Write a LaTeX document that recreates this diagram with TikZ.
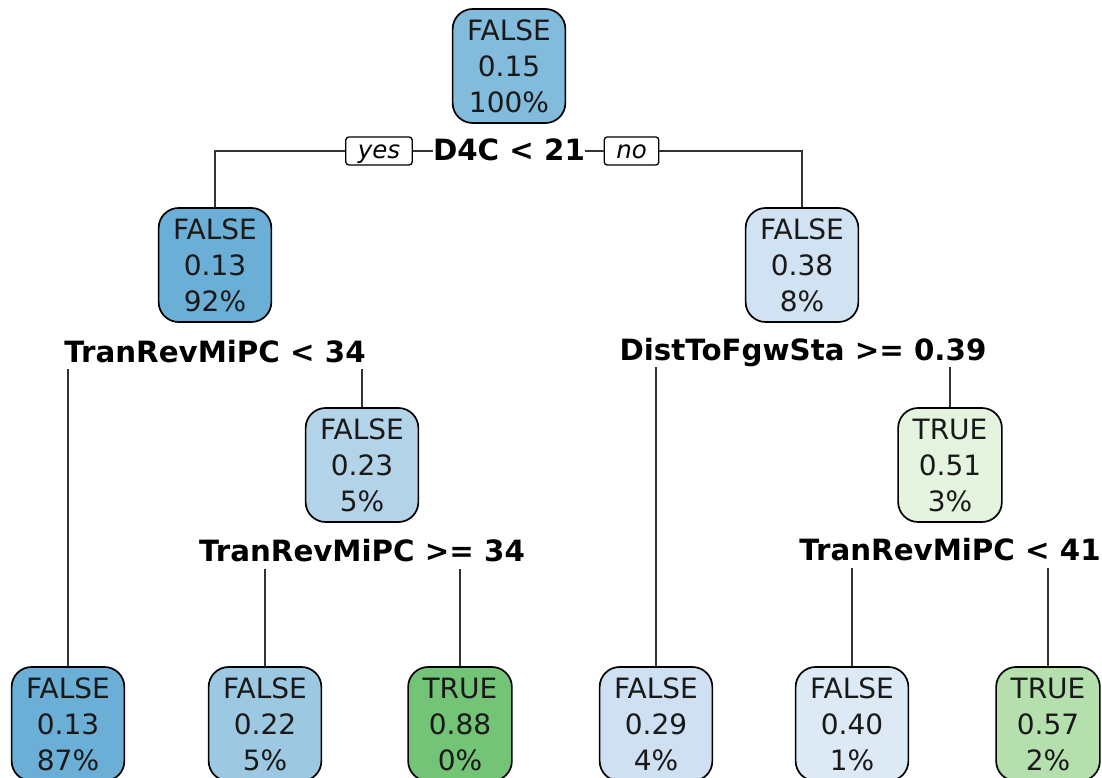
\documentclass[tikz,border=0pt]{standalone}
\usepackage{fontspec}
\setmainfont{DejaVu Sans}
\definecolor{cA}{HTML}{82BBDB}
\definecolor{cB}{HTML}{6BAED6}
\definecolor{cC}{HTML}{D1E3F3}
\definecolor{cD}{HTML}{B3D3E8}
\definecolor{cE}{HTML}{9CC9E1}
\definecolor{cF}{HTML}{CEE0F2}
\definecolor{cG}{HTML}{DDEAF6}
\definecolor{cH}{HTML}{73C476}
\definecolor{cI}{HTML}{E4F4DF}
\definecolor{cJ}{HTML}{B5E0AE}
\definecolor{linec}{HTML}{333333}
\tikzset{
  treenode/.style={draw=black, line width=1.7pt, rounded corners=20pt, fill=#1,
    align=center, minimum height=114pt, inner xsep=14.5pt, inner ysep=0pt,
    font=\fontsize{28}{36}\selectfont, text=black!90},
  splitlab/.style={anchor=base, inner sep=0pt, font=\fontsize{29.3}{34}\selectfont\bfseries},
  ynbox/.style={draw=black, line width=1.3pt, rounded corners=3pt, fill=white,
    text height=22pt, text depth=6pt, inner xsep=12pt, inner ysep=0pt,
    font=\fontsize{24.5}{28}\selectfont\itshape},
  conn/.style={draw=linec, line width=1.5pt}
}
\begin{document}
\begin{tikzpicture}[x=1pt, y=-1pt]
\useasboundingbox (0,0) rectangle (1102,778);

% internal nodes
\node[treenode=cA] (n1) at (509,66) {FALSE\\0.15\\100\%};
\node[treenode=cB] (n2) at (215,265) {FALSE\\0.13\\92\%};
\node[treenode=cC] (n3) at (802,265) {FALSE\\0.38\\8\%};
\node[treenode=cD] (n5) at (362,465) {FALSE\\0.23\\5\%};
\node[treenode=cI] (n6) at (950,465) {TRUE\\0.51\\3\%};

% leaves
\node[treenode=cB] (lf1) at (68,724) {FALSE\\0.13\\87\%};
\node[treenode=cE] (lf2) at (265,724) {FALSE\\0.22\\5\%};
\node[treenode=cH] (lf3) at (460,724) {TRUE\\0.88\\0\%};
\node[treenode=cF] (lf4) at (656,724) {FALSE\\0.29\\4\%};
\node[treenode=cG] (lf5) at (852,724) {FALSE\\0.40\\1\%};
\node[treenode=cJ] (lf6) at (1048,724) {TRUE\\0.57\\2\%};

% split rules
\node[splitlab] (s1) at (509,161) {D4C < 21};
\node[splitlab] (s2) at (215,362) {TranRevMiPC < 34};
\node[splitlab] (s3) at (803,360) {DistToFgwSta >= 0.39};
\node[splitlab] (s5) at (362,561) {TranRevMiPC >= 34};
\node[splitlab] (s6) at (950,560) {TranRevMiPC < 41};

% yes / no tags
\node[ynbox] (yes) at (379,151) {yes};
\node[ynbox] (no) at (631.5,151) {no};

% first split
\draw[conn] (n2.north) |- (yes.west);
\draw[conn] (yes.east) -- (yes.east -| s1.west);
\draw[conn] (no.west -| s1.east) -- (no.west);
\draw[conn] (no.east) -| (n3.north);

% lower splits
\draw[conn] ([yshift=-7pt]s2.base -| lf1.north) -- (lf1.north);
\draw[conn] ([yshift=-7pt]s2.base -| n5.north) -- (n5.north);
\draw[conn] ([yshift=-7pt]s3.base -| lf4.north) -- (lf4.north);
\draw[conn] ([yshift=-7pt]s3.base -| n6.north) -- (n6.north);
\draw[conn] ([yshift=-8pt]s5.base -| lf2.north) -- (lf2.north);
\draw[conn] ([yshift=-8pt]s5.base -| lf3.north) -- (lf3.north);
\draw[conn] ([yshift=-8pt]s6.base -| lf5.north) -- (lf5.north);
\draw[conn] ([yshift=-8pt]s6.base -| lf6.north) -- (lf6.north);
\end{tikzpicture}
\end{document}
